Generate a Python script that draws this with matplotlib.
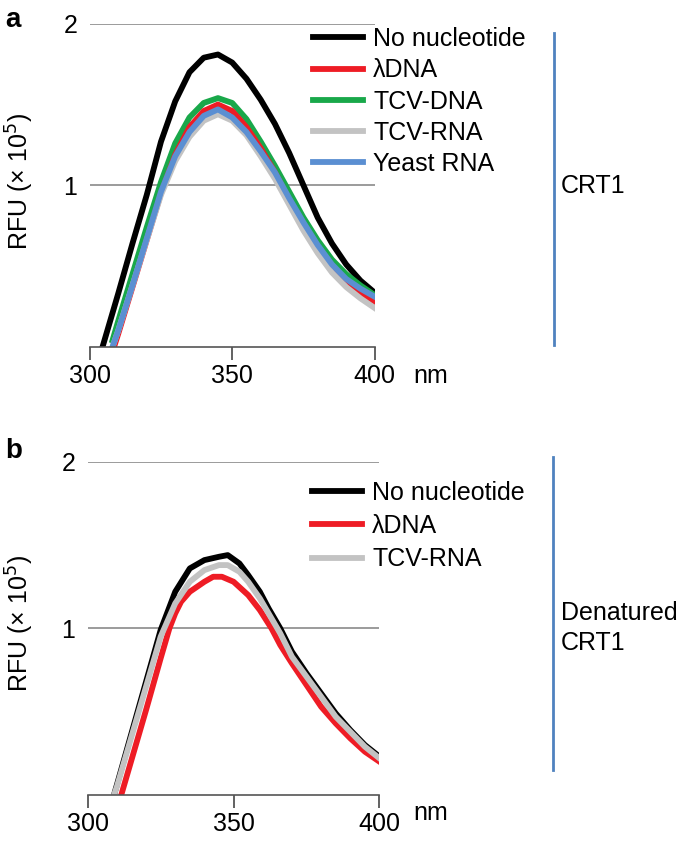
import matplotlib
matplotlib.use('Agg')
import matplotlib.pyplot as plt
from matplotlib.lines import Line2D

plt.rcParams['font.family'] = ['Liberation Sans', 'DejaVu Sans']

# 패널 a: CRT1 (x = nm, y = RFU x 10^5)
A_BLACK_NM = [304.5, 310, 315, 320, 325, 330, 335, 340, 345, 350, 355, 360, 365, 370, 375, 380, 385, 390, 395, 400]
A_BLACK = [0.0, 0.33, 0.64, 0.94, 1.27, 1.52, 1.70, 1.79, 1.81, 1.76, 1.66, 1.53, 1.38, 1.20, 1.00, 0.80, 0.64, 0.51, 0.41, 0.335]

A_NM = [308, 310, 315, 320, 325, 330, 335, 340, 345, 350, 355, 360, 365, 370, 375, 380, 385, 390, 395, 400]
A_GREEN = [0.04, 0.16, 0.45, 0.74, 1.02, 1.26, 1.42, 1.51, 1.54, 1.51, 1.41, 1.27, 1.12, 0.96, 0.80, 0.66, 0.54, 0.45, 0.38, 0.32]
A_RED = [-0.03, 0.08, 0.37, 0.66, 0.95, 1.19, 1.36, 1.46, 1.50, 1.46, 1.36, 1.23, 1.08, 0.91, 0.76, 0.61, 0.49, 0.40, 0.33, 0.28]
A_GRAY = [0.0, 0.10, 0.38, 0.66, 0.94, 1.15, 1.30, 1.40, 1.44, 1.40, 1.31, 1.18, 1.04, 0.88, 0.72, 0.58, 0.46, 0.37, 0.30, 0.24]
A_BLUE = [0.0, 0.10, 0.38, 0.67, 0.96, 1.18, 1.33, 1.43, 1.47, 1.42, 1.33, 1.21, 1.08, 0.92, 0.77, 0.63, 0.51, 0.42, 0.36, 0.31]

# 패널 b: Denatured CRT1
B_NM = [309, 310, 315, 320, 325, 330, 335, 340, 345, 348, 352, 355, 359, 362, 366, 370, 375, 380, 385, 390, 395, 400]
B_BLACK = [0.0, 0.06, 0.37, 0.68, 0.99, 1.22, 1.36, 1.41, 1.43, 1.44, 1.39, 1.32, 1.22, 1.12, 1.00, 0.86, 0.73, 0.61, 0.49, 0.39, 0.30, 0.23]
B_GRAY = [0.0, 0.05, 0.35, 0.65, 0.95, 1.15, 1.28, 1.35, 1.38, 1.38, 1.34, 1.28, 1.18, 1.09, 0.97, 0.83, 0.71, 0.59, 0.47, 0.38, 0.29, 0.22]
B_RED_NM = [311.5, 315, 320, 325, 328, 330, 332, 335, 340, 343, 346, 350, 355, 359, 363, 366, 370, 375, 380, 385, 390, 395, 400]
B_RED = [0.0, 0.21, 0.51, 0.82, 1.00, 1.09, 1.16, 1.22, 1.28, 1.31, 1.31, 1.28, 1.20, 1.11, 1.00, 0.90, 0.79, 0.66, 0.53, 0.43, 0.34, 0.26, 0.20]

LABELS_A = ['No nucleotide', 'λDNA', 'TCV-DNA', 'TCV-RNA', 'Yeast RNA']
LABELS_B = ['No nucleotide', 'λDNA', 'TCV-RNA']

C_BLACK = '#000000'
C_RED = '#ee1c25'
C_GREEN = '#19a84a'
C_GRAY = '#c3c3c3'
C_BLUE = '#5b8fd2'
C_SIDE = '#4f82bf'

FS = 18
LW = 4.2

fig = plt.figure(figsize=(6.85, 8.5), dpi=100)
ax_a = fig.add_axes([0.131, 0.592, 0.416, 0.380])
ax_b = fig.add_axes([0.128, 0.0647, 0.426, 0.392])


def style_axes(ax, label_x, label_y):
    ax.set_xlim(300, 400)
    ax.set_ylim(0, 2)
    for s in ['top', 'right', 'left']:
        ax.spines[s].set_visible(False)
    ax.spines['bottom'].set_color('#555555')
    ax.spines['bottom'].set_linewidth(1.2)
    ax.set_xticks([300, 350, 400])
    ax.set_yticks([1, 2])
    ax.tick_params(axis='x', length=9.5, width=1.3, color='#555555', labelsize=FS, pad=3)
    ax.tick_params(axis='y', length=0, labelsize=FS, pad=9)
    ax.grid(axis='y', color='#808080', linewidth=1.1)
    ax.set_axisbelow(True)
    ax.set_ylabel('RFU (× 10$^5$)', fontsize=FS)
    ax.yaxis.set_label_coords(label_x, label_y)


def add_legend(ax, handles, labels, x, y, spacing):
    ax.legend(handles, labels, loc='upper left', bbox_to_anchor=(x, y),
              bbox_transform=fig.transFigure, frameon=False, fontsize=FS,
              handlelength=2.0, handletextpad=0.4, labelspacing=spacing,
              borderpad=0, borderaxespad=0)


style_axes(ax_a, -0.19, 0.512)
la_black, = ax_a.plot(A_BLACK_NM, A_BLACK, color=C_BLACK, lw=LW, solid_joinstyle='round')
la_green, = ax_a.plot(A_NM, A_GREEN, color=C_GREEN, lw=LW, solid_joinstyle='round')
la_red, = ax_a.plot(A_NM, A_RED, color=C_RED, lw=LW, solid_joinstyle='round')
la_gray, = ax_a.plot(A_NM, A_GRAY, color=C_GRAY, lw=LW, solid_joinstyle='round')
la_blue, = ax_a.plot(A_NM, A_BLUE, color=C_BLUE, lw=LW, solid_joinstyle='round')
add_legend(ax_a, [la_black, la_red, la_green, la_gray, la_blue], LABELS_A, 0.457, 0.968, 0.29)

style_axes(ax_b, -0.178, 0.515)
lb_black, = ax_b.plot(B_NM, B_BLACK, color=C_BLACK, lw=LW, solid_joinstyle='round')
lb_red, = ax_b.plot(B_RED_NM, B_RED, color=C_RED, lw=LW, solid_joinstyle='round')
lb_gray, = ax_b.plot(B_NM, B_GRAY, color=C_GRAY, lw=LW, solid_joinstyle='round')
add_legend(ax_b, [lb_black, lb_red, lb_gray], LABELS_B, 0.4556, 0.4343, 0.37)

# 패널 라벨, 단위
fig.text(0.007, 1 - 20 / 850, 'a', fontsize=20, fontweight='bold', va='center')
fig.text(0.007, 1 - 451 / 850, 'b', fontsize=20, fontweight='bold', va='center')
fig.text(413 / 685, 1 - 376 / 850, 'nm', fontsize=FS, va='center')
fig.text(413 / 685, 1 - 813 / 850, 'nm', fontsize=FS, va='center')

# 오른쪽 세로선 + 라벨
fig.add_artist(Line2D([554 / 685, 554 / 685], [1 - 33 / 850, 1 - 345 / 850], color=C_SIDE, lw=2))
fig.add_artist(Line2D([553 / 685, 553 / 685], [1 - 457 / 850, 1 - 770 / 850], color=C_SIDE, lw=2))
fig.text(561 / 685, 1 - 186 / 850, 'CRT1', fontsize=FS, va='center')
fig.text(561 / 685, 1 - 628 / 850, 'Denatured\nCRT1', fontsize=FS, va='center', linespacing=1.3)

fig.savefig('out.png', dpi=100)
